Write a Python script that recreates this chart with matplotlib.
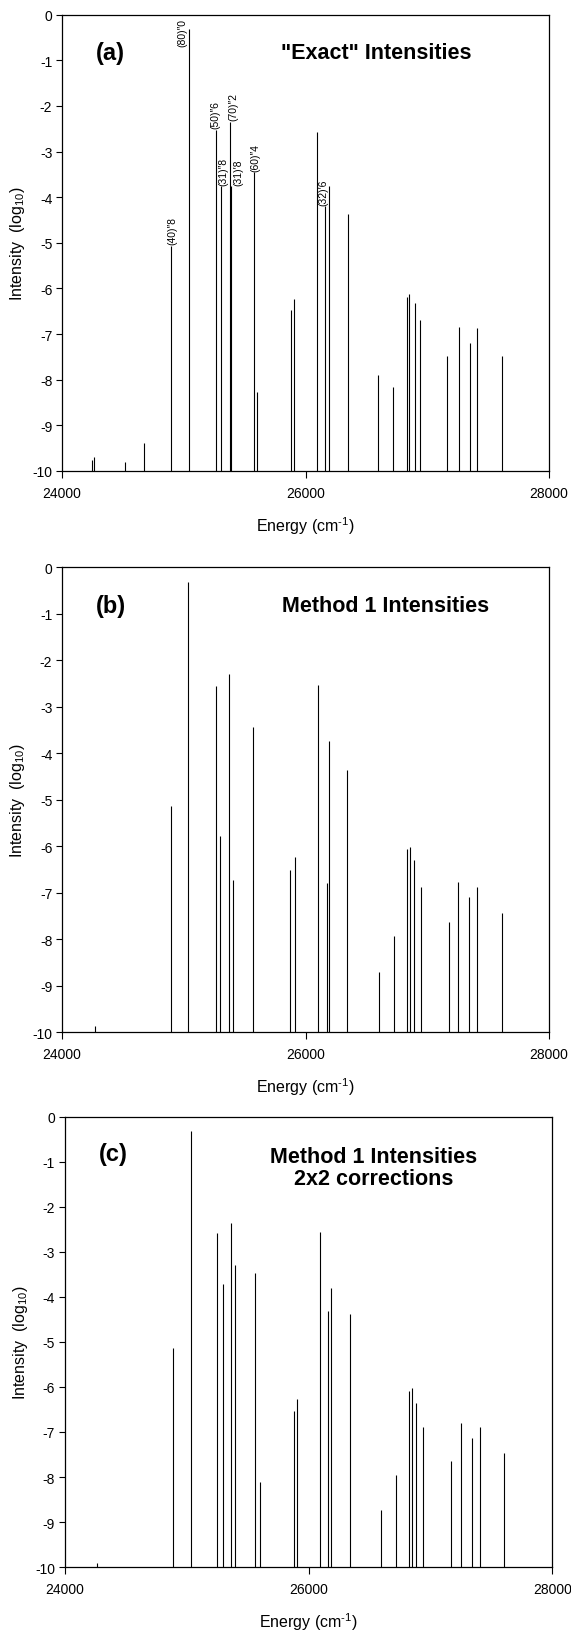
import matplotlib
matplotlib.use("Agg")
import matplotlib.pyplot as plt

plt.rcParams['font.family'] = ['Liberation Sans', 'DejaVu Sans']
plt.rcParams['axes.unicode_minus'] = False
plt.rcParams['mathtext.fontset'] = 'custom'
plt.rcParams['mathtext.rm'] = 'Liberation Sans'
plt.rcParams['mathtext.default'] = 'rm'

# (a) "Exact" intensities: energy (cm-1) and log10 intensity
exact_E = [24250, 24260, 24517, 24673, 24893, 25043, 25262, 25303, 25377, 25388,
           25579, 25599, 25878, 25903, 26097, 26160, 26196, 26352, 26595, 26716,
           26831, 26853, 26899, 26940, 27162, 27258, 27348, 27406, 27614]
exact_I = [-9.75, -9.70, -9.80, -9.38, -5.06, -0.31, -2.52, -3.76, -2.34, -3.76,
           -3.45, -8.27, -6.48, -6.23, -2.58, -4.20, -3.75, -4.36, -7.90, -8.16,
           -6.19, -6.12, -6.31, -6.69, -7.47, -6.85, -7.20, -6.87, -7.49]

# peak assignments in panel (a)
label_E = [24893, 25043, 25262, 25303, 25377, 25388, 25579, 26160]
label_text = ['(40)\u20338', '(80)\u20330', '(50)\u20336', '(31)\u20338',
              '(70)\u20332', '(31)\u20328', '(60)\u20334', '(32)\u20326']

# (b) Method 1 intensities
m1_E = [24272, 24894, 25037, 25265, 25300, 25372, 25402, 25569, 25874, 25910,
        26102, 26173, 26194, 26344, 26601, 26726, 26831, 26855, 26894, 26945,
        27175, 27253, 27345, 27411, 27614]
m1_I = [-9.87, -5.13, -0.31, -2.55, -5.78, -2.31, -6.72, -3.43, -6.52, -6.24,
        -2.54, -6.80, -3.73, -4.36, -8.71, -7.94, -6.07, -6.01, -6.30, -6.87,
        -7.64, -6.77, -7.10, -6.87, -7.44]

# (c) Method 1 intensities with 2x2 corrections
m1c_E = [24260, 24887, 25034, 25252, 25296, 25365, 25395, 25559, 25604, 25876,
         25903, 26091, 26157, 26187, 26336, 26593, 26719, 26820, 26847, 26883,
         26937, 27167, 27248, 27343, 27406, 27606]
m1c_I = [-9.90, -5.14, -0.32, -2.58, -3.72, -2.35, -3.28, -3.46, -8.12, -6.54,
         -6.26, -2.55, -4.32, -3.81, -4.37, -8.73, -7.96, -6.09, -6.03, -6.36,
         -6.88, -7.65, -6.80, -7.14, -6.90, -7.47]

fig = plt.figure(figsize=(5.71, 16.4), dpi=100)
ax_a = fig.add_axes([0.1086, 0.7122, 0.8529, 0.2782])
ax_b = fig.add_axes([0.1086, 0.3701, 0.8529, 0.2835])
ax_c = fig.add_axes([0.1135, 0.0439, 0.8540, 0.2744])


def spectrum(ax, E, I, tag, title):
    ax.vlines(E, -10, I, color='black', lw=0.8)
    ax.set_xlim(24000, 28000)
    ax.set_ylim(-10, 0)
    ax.set_xticks([24000, 26000, 28000])
    ax.set_yticks(range(-10, 1))
    ax.tick_params(axis='x', direction='out', length=5, pad=6, labelsize=10)
    ax.tick_params(axis='y', direction='out', length=4, pad=3, labelsize=10)
    for s in ax.spines.values():
        s.set_linewidth(0.9)
    ax.set_xlabel('Energy (cm$^{\u20101}$)', fontsize=11.5, labelpad=10)
    ax.set_ylabel('Intensity  (log$_{10}$)', fontsize=11.5, labelpad=4)
    ax.text(24400, -0.82, tag, fontsize=17, fontweight='bold', ha='center', va='center')
    ax.text(title[0], title[1], title[2], fontsize=15.5, fontweight='bold',
            ha='center', va='center', linespacing=1.05)


spectrum(ax_a, exact_E, exact_I, '(a)', (26580, -0.82, '"Exact" Intensities'))
spectrum(ax_b, m1_E, m1_I, '(b)', (26660, -0.83, 'Method 1 Intensities'))
spectrum(ax_c, m1c_E, m1c_I, '(c)', (26530, -1.12, 'Method 1 Intensities\n2x2 corrections'))

# assignments above the peaks in (a); sideways nudge in points
nudge = [1.5, -4.5, 0.0, 2.0, 3.0, 5.0, 0.5, -1.2]
for e, t, dx in zip(label_E, label_text, nudge):
    top = exact_I[exact_E.index(e)]
    if e == 25043:
        ax_a.annotate(t, (e, 0), xytext=(dx, -2), textcoords='offset points',
                      rotation=90, ha='center', va='top', fontsize=7.5)
    else:
        ax_a.annotate(t, (e, top), xytext=(dx, 1), textcoords='offset points',
                      rotation=90, ha='center', va='bottom', fontsize=7.5)

fig.savefig('out.png', dpi=100)
